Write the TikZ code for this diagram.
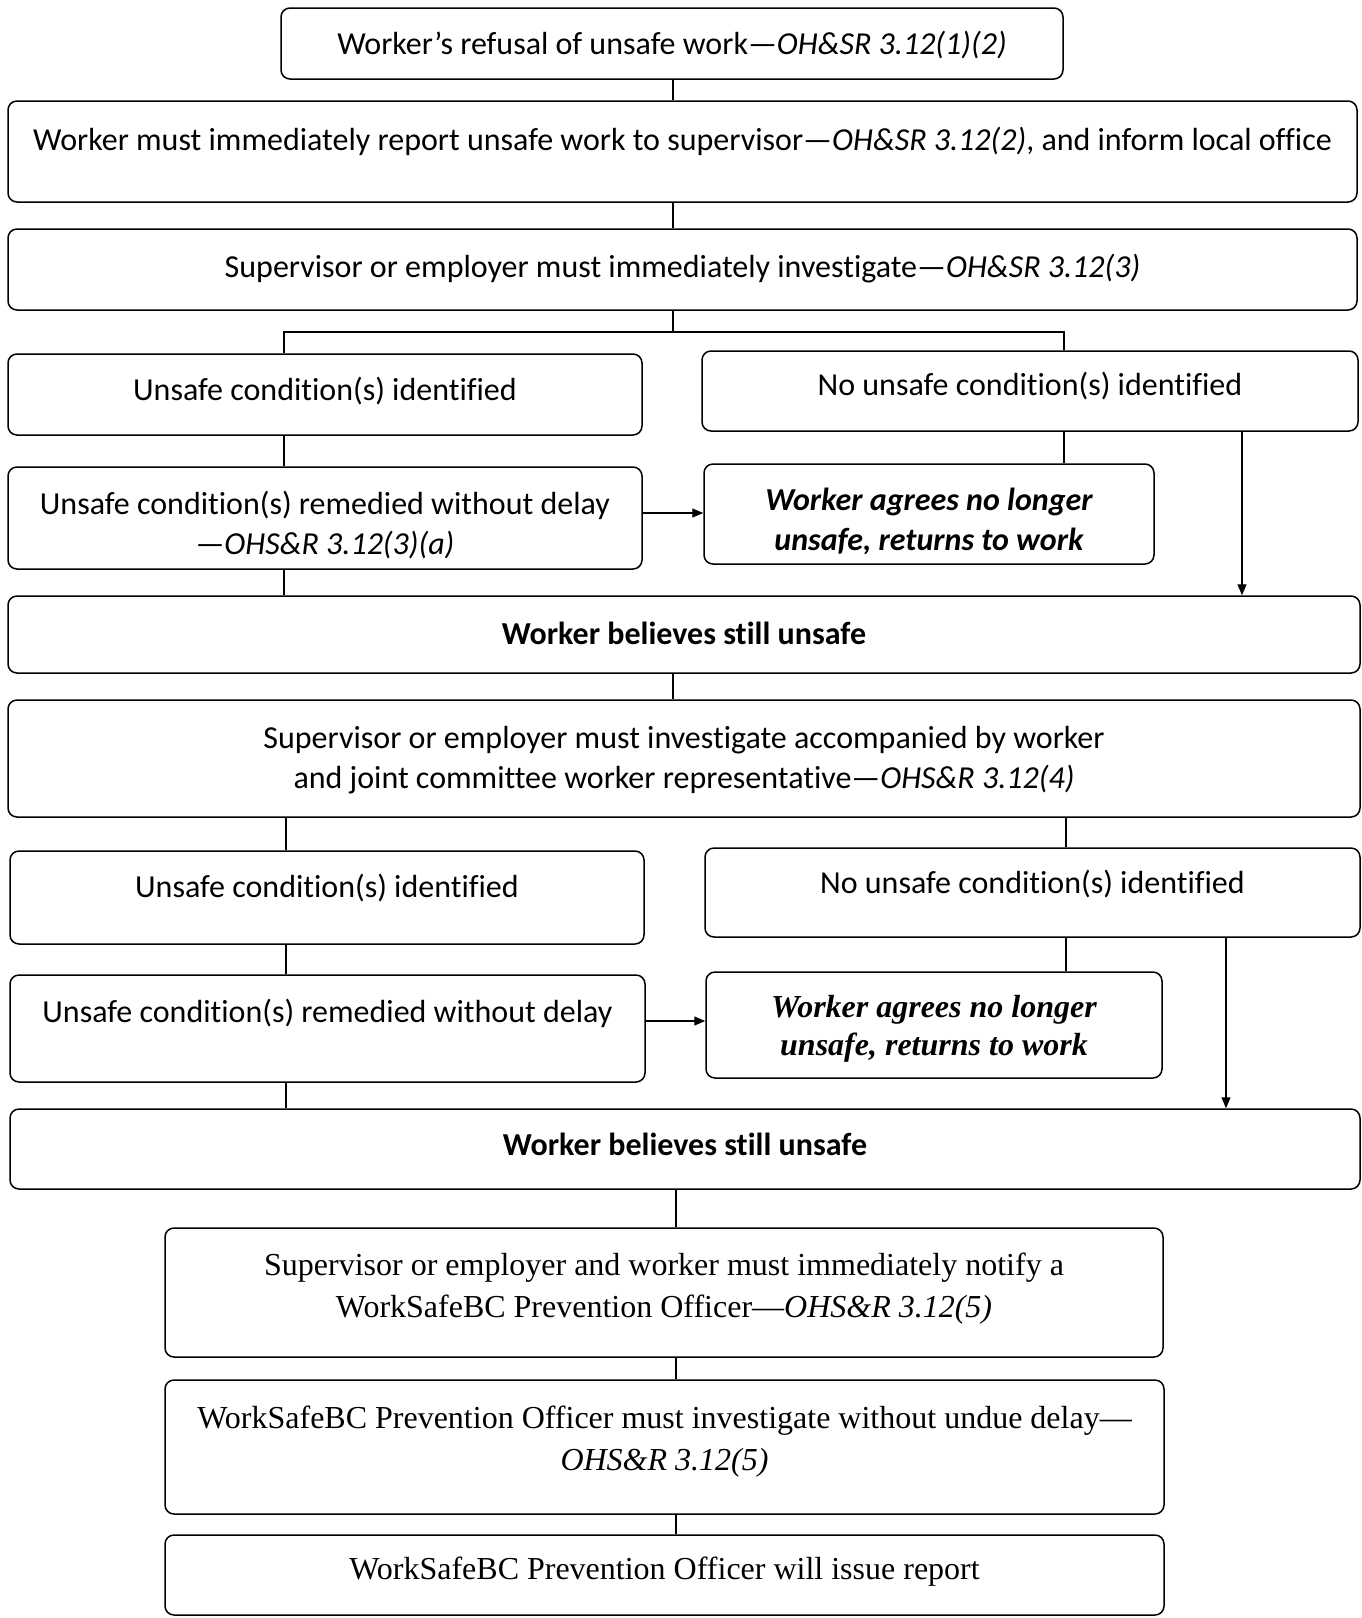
\documentclass[tikz,border=0pt]{standalone}
\usepackage{fontspec}
\setmainfont{Carlito}[Ligatures={NoCommon}]
\newfontfamily\serifwsbc{Liberation Serif}
\usetikzlibrary{arrows.meta, positioning}
\tikzset{
  every picture/.style={>={Triangle[length=11pt, width=9pt]}},
  caja/.style={draw, line width=1.5pt, rounded corners=9pt, align=center, inner sep=0pt,
              font=\fontsize{32}{40}\selectfont},
  cajat/.style={caja, font=\serifwsbc\fontsize{32}{42}\selectfont},
  una/.style={text height=29pt, text depth=8pt+2*#1},
  prof/.style={text depth=#1},
  baja/.style={text depth=0pt, execute at begin node={\rule{0pt}{#1}}},
  linea/.style={line width=1.2pt},
  flecha/.style={->, line width=1.2pt},
}

\begin{document}
\begin{tikzpicture}[x=1pt, y=-1pt]
  \useasboundingbox (0,0) rectangle (1362,1618);
  % ejes de los conectores
  \coordinate (ejeC) at (673,0);
  \coordinate (ejeI) at (284,0);
  \coordinate (ejeD) at (1064,0);
  \coordinate (ejeF) at (1242,0);
  \coordinate (ejeI2) at (286,0);
  \coordinate (ejeD2) at (1066,0);
  \coordinate (ejeF2) at (1226,0);
  \coordinate (ejeC2) at (676,0);

  \node[caja, una=0, minimum width=782, minimum height=71] (b1) at (672,43.5) {Worker’s refusal of unsafe work—\textit{OH\&SR 3.12(1)(2)}};
  \node[caja, una=12, minimum width=1349, minimum height=101] (b2) at (682.5,151.5) {Worker must immediately report unsafe work to supervisor—\textit{OH\&SR 3.12(2)}, and inform local office};
  \node[caja, una=3, minimum width=1349, minimum height=81] (b3) at (682.5,269.5) {Supervisor or employer must immediately investigate—\textit{OH\&SR 3.12(3)}};
  \node[caja, una=5, minimum width=634, minimum height=81] (b4l) at (325,394.5) {Unsafe condition(s) identified};
  \node[caja, una=6, minimum width=656, minimum height=80] (b4r) at (1030,391) {No unsafe condition(s) identified};
  \node[caja, baja=73pt, minimum width=634, minimum height=102] (b5l) at (325,518) {Unsafe condition(s) remedied without delay\\—\textit{OHS\&R 3.12(3)(a)}};
  \node[caja, baja=72pt, font=\fontsize{32}{40}\selectfont\bfseries\itshape, minimum width=450, minimum height=100] (b5r) at (929,514) {Worker agrees no longer\\unsafe, returns to work};
  \node[caja, una=1, font=\fontsize{32}{40}\selectfont\bfseries, minimum width=1352, minimum height=77] (b6) at (684,634.5) {Worker believes still unsafe};
  \node[caja, prof=2pt, minimum width=1352, minimum height=117] (b7) at (684,758.5) {Supervisor or employer must investigate accompanied by worker\\and joint committee worker representative—\textit{OHS\&R 3.12(4)}};
  \node[caja, una=11, minimum width=634, minimum height=93] (b8l) at (327,897.5) {Unsafe condition(s) identified};
  \node[caja, una=10, minimum width=655, minimum height=89] (b8r) at (1032.5,892.5) {No unsafe condition(s) identified};
  \node[caja, una=17, minimum width=635, minimum height=107] (b9l) at (327.5,1028.5) {Unsafe condition(s) remedied without delay};
  \node[cajat, prof=-2pt, font=\serifwsbc\fontsize{32}{38}\selectfont\bfseries\itshape, minimum width=456, minimum height=106] (b9r) at (934,1025) {Worker agrees no longer\\unsafe, returns to work};
  \node[caja, una=4, font=\fontsize{32}{40}\selectfont\bfseries, minimum width=1350, minimum height=80] (b10) at (685,1149) {Worker believes still unsafe};
  \node[cajat, prof=15pt, minimum width=998, minimum height=129] (b11) at (664,1292.5) {Supervisor or employer and worker must immediately notify a\\WorkSafeBC Prevention Officer—\textit{OHS\&R 3.12(5)}};
  \node[cajat, prof=17pt, minimum width=999, minimum height=134] (b12) at (664.5,1447) {WorkSafeBC Prevention Officer must investigate without undue delay—\\\textit{OHS\&R 3.12(5)}};
  \node[cajat, una=6, minimum width=999, minimum height=80] (b13) at (664.5,1575) {WorkSafeBC Prevention Officer will issue report};

  % primera investigacion
  \draw[linea] (b1.south -| ejeC) -- (b2.north -| ejeC); \draw[linea] (b2.south -| ejeC) -- (b3.north -| ejeC);
  \coordinate (rama1) at (673,332);
  \draw[linea] (b3.south -| rama1) -- (rama1);
  \draw[linea] (b4l.north -| ejeI) |- (rama1) -| (b4r.north -| ejeD);
  \draw[linea] (b4l.south -| ejeI) -- (b5l.north -| ejeI); \draw[linea] (b5l.south -| ejeI) -- (b6.north -| ejeI);
  \draw[linea] (b4r.south -| ejeD) -- (b5r.north -| ejeD);
  \draw[flecha] (b5l.east |- 0,513) -- (b5r.west |- 0,513);
  \draw[flecha] (b4r.south -| ejeF) -- (b6.north -| ejeF);
  % segunda investigacion
  \draw[linea] (b6.south -| ejeC) -- (b7.north -| ejeC);
  \draw[linea] (b7.south -| ejeI2) -- (b8l.north -| ejeI2); \draw[linea] (b7.south -| ejeD2) -- (b8r.north -| ejeD2);
  \draw[linea] (b8l.south -| ejeI2) -- (b9l.north -| ejeI2); \draw[linea] (b9l.south -| ejeI2) -- (b10.north -| ejeI2);
  \draw[linea] (b8r.south -| ejeD2) -- (b9r.north -| ejeD2);
  \draw[flecha] (b9l.east |- 0,1021) -- (b9r.west |- 0,1021);
  \draw[flecha] (b8r.south -| ejeF2) -- (b10.north -| ejeF2);
  % oficial de prevencion
  \draw[linea] (b10.south -| ejeC2) -- (b11.north -| ejeC2); \draw[linea] (b11.south -| ejeC2) -- (b12.north -| ejeC2);
  \draw[linea] (b12.south -| ejeC2) -- (b13.north -| ejeC2);
\end{tikzpicture}
\end{document}
